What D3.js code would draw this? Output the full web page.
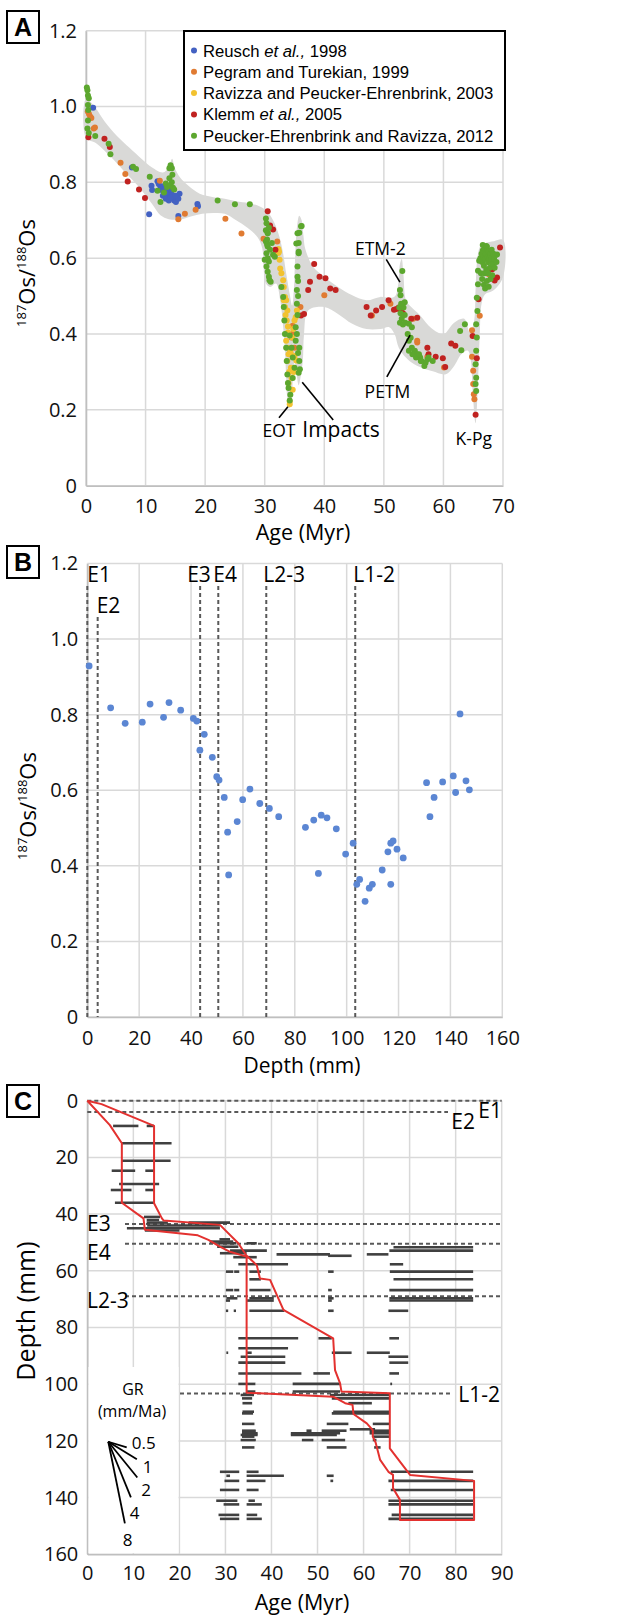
<!DOCTYPE html>
<html>
<head>
<meta charset="utf-8">
<script src="https://cdn.jsdelivr.net/npm/d3@7"></script>
<style>
  body { margin: 0; background: #fff; }
  svg { display: block; font-family: "Open Sans", sans-serif; }
</style>
</head>
<body>
<svg id="fig" width="617" height="1618"></svg>
<script>
// --- Panel A: 187Os/188Os vs age, five literature compilations ---
const seriesNames = [
    ["Reusch ", "et al.,", " 1998"],
    ["Pegram and Turekian, 1999"],
    ["Ravizza and Peucker-Ehrenbrink, 2003"],
    ["Klemm ", "et al.,", " 2005"],
    ["Peucker-Ehrenbrink and Ravizza, 2012"]
];
const seriesColors = ["#4361c2", "#e07b32", "#f2c230", "#c02220", "#5ca72e"];

const reusch = [[1.2,0.997],[7.7,0.839],[10.6,0.716],[11.0,0.791],[11.1,0.780],[12.0,0.803],[12.2,0.796],
    [12.5,0.789],[12.7,0.783],[12.9,0.777],[13.2,0.774],[13.4,0.765],[13.6,0.761],[13.9,0.770],[14.1,0.771],
    [14.4,0.768],[14.6,0.759],[14.8,0.752],[15.1,0.748],[15.3,0.763],[15.5,0.757],[15.7,0.770],[12.9,0.765],
    [13.4,0.757],[13.9,0.752],[14.2,0.760],[13.0,0.790],[13.6,0.775],[14.3,0.780],[15.0,0.765],[15.5,0.711],
    [18.7,0.743],[18.8,0.737]];
const pegram = [[0.3,0.987],[0.5,0.980],[0.7,0.974],[0.9,0.970],[1.3,0.942],[1.5,0.945],[5.8,0.852],[6.6,0.822],
    [12.4,0.804],[15.5,0.703],[16.6,0.717],[18.4,0.728],[23.4,0.704],[26.1,0.665],[29.8,0.651],[32.1,0.644],
    [34.7,0.422],[34.5,0.391],[35.0,0.364],[34.3,0.351],[34.6,0.400],[36.0,0.471],[40.0,0.502],[48.0,0.449],
    [51.1,0.480],[54.9,0.440],[55.6,0.378],[57.3,0.340],[60.1,0.312],[64.8,0.410],[64.8,0.340],[65.0,0.303],
    [65.0,0.268],[65.1,0.241],[65.2,0.228],[66.1,0.448],[67.6,0.558],[55.6,0.382]];
const ravizza = [[32.3,0.624],[32.3,0.614],[32.4,0.618],[32.5,0.596],[32.6,0.573],[32.8,0.560],[33.1,0.542],
    [33.2,0.524],[33.6,0.489],[33.4,0.471],[33.8,0.462],[33.7,0.436],[33.9,0.404],[33.6,0.382],[33.8,0.364],
    [34.0,0.347],[33.8,0.329],[34.4,0.311],[34.5,0.284],[34.7,0.253],[34.2,0.222],[34.2,0.215],[35.2,0.444],
    [35.4,0.462],[35.0,0.436],[34.8,0.413],[34.6,0.391],[34.3,0.351],[35.0,0.342],[33.2,0.489],[33.4,0.498],
    [33.5,0.450],[33.9,0.420],[34.1,0.300],[34.0,0.270],[33.6,0.400],[35.3,0.330],[34.9,0.300]];
const klemm = [[0.4,0.919],[3.1,0.915],[4.0,0.893],[7.0,0.802],[8.9,0.781],[9.9,0.759],[30.5,0.724],[30.9,0.686],
    [31.4,0.676],[31.8,0.622],[36.1,0.449],[36.6,0.453],[38.3,0.585],[37.6,0.538],[37.3,0.516],[39.2,0.551],
    [40.2,0.547],[41.0,0.520],[41.9,0.516],[47.1,0.471],[47.8,0.449],[48.7,0.462],[49.7,0.471],[50.8,0.489],
    [51.7,0.464],[52.1,0.466],[52.5,0.470],[52.9,0.460],[53.2,0.455],[54.6,0.440],[55.6,0.443],[57.3,0.364],
    [57.5,0.347],[58.7,0.340],[59.9,0.336],[60.3,0.313],[61.3,0.375],[62.0,0.369],[64.9,0.395],[65.6,0.336],
    [65.9,0.492],[67.5,0.562],[68.2,0.571],[69.0,0.549],[68.6,0.541],[69.5,0.628],[65.4,0.187]];
const peucker = [[0.14,1.050],[0.24,1.043],[0.33,1.029],[0.47,1.022],[0.33,1.004],[0.38,0.991],[0.33,0.963],
    [0.24,0.942],[0.47,0.930],[1.55,0.922],[3.8,0.902],[4.1,0.874],[7.9,0.841],[8.4,0.835],[10.7,0.815],
    [14.0,0.837],[14.4,0.837],[14.0,0.811],[14.4,0.800],[12.0,0.778],[12.5,0.748],[13.4,0.797],[13.6,0.788],
    [14.1,0.792],[14.6,0.786],[14.8,0.781],[13.1,0.773],[14.2,0.845],[14.5,0.820],[22.1,0.752],[25.0,0.742],
    [27.5,0.742],
    [30.2,0.705],[30.3,0.692],[30.2,0.674],[30.5,0.666],[30.4,0.649],[30.2,0.644],[30.4,0.636],[30.5,0.631],
    [30.9,0.622],[30.3,0.613],[30.5,0.600],[30.7,0.591],[30.0,0.596],[30.3,0.578],[30.5,0.564],[30.7,0.551],
    [30.8,0.542],[31.0,0.538],[31.2,0.640],[31.4,0.609],[31.7,0.604],[30.7,0.680],[30.5,0.667],
    [32.8,0.524],[33.1,0.498],[33.2,0.471],[33.3,0.436],[33.4,0.400],[33.6,0.364],[33.7,0.329],[33.8,0.293],
    [33.9,0.271],[34.2,0.396],[34.5,0.364],[34.7,0.338],[35.0,0.311],[34.7,0.284],[34.0,0.258],[34.3,0.240],
    [34.2,0.225],
    [35.2,0.418],[35.4,0.480],[35.4,0.516],[35.5,0.551],[35.5,0.578],[35.7,0.613],[35.7,0.640],[35.8,0.667],
    [36.1,0.684],[35.2,0.382],[35.8,0.364],[35.8,0.329],[35.7,0.298],[35.9,0.307],[35.5,0.666],[36.2,0.685],
    [35.3,0.639],[35.7,0.617],[35.5,0.450],[35.6,0.500],[35.6,0.540],[35.4,0.400],[35.6,0.350],
    [53.1,0.566],[52.7,0.516],[52.8,0.502],[53.5,0.484],[52.6,0.470],[52.8,0.455],[53.0,0.440],[52.7,0.430],
    [53.2,0.425],[53.5,0.450],[53.3,0.470],[52.9,0.480],[53.6,0.430],[54.2,0.427],[54.7,0.418],[54.2,0.382],
    [54.7,0.364],[55.2,0.356],[55.6,0.347],[56.1,0.338],[56.3,0.329],[57.0,0.324],[57.3,0.333],[57.5,0.338],
    [56.8,0.316],[54.2,0.356],[55.4,0.338],[56.2,0.329],[54.8,0.347],[55.9,0.347],[58.2,0.329],[54.0,0.400],
    [54.5,0.390],
    [62.8,0.408],[63.6,0.426],[63.0,0.357],[65.4,0.268],[65.5,0.285],[65.4,0.320],[65.5,0.356],[65.6,0.391],
    [65.5,0.426],[65.7,0.461],[65.6,0.496],[65.8,0.531],[65.8,0.567],[66.0,0.593],[65.5,0.250],
    [66.2,0.600],[66.4,0.612],[66.5,0.590],[66.6,0.620],[66.7,0.605],[66.8,0.580],[66.9,0.625],[67.0,0.598],
    [67.1,0.612],[67.2,0.570],[67.3,0.630],[67.4,0.603],[67.5,0.589],[67.6,0.618],[67.7,0.600],[67.8,0.575],
    [67.9,0.610],[68.0,0.595],[68.1,0.622],[68.2,0.605],[68.3,0.585],[68.4,0.612],[68.5,0.598],[68.7,0.608],
    [68.9,0.590],[66.3,0.560],[66.5,0.545],[66.8,0.530],[67.0,0.520],[67.3,0.540],[67.6,0.525],[67.9,0.545],
    [68.2,0.555],[66.6,0.635],[67.2,0.632],[66.9,0.560],[67.5,0.560],[68.6,0.575],[69.0,0.610]];
const seriesData = [reusch, pegram, ravizza, klemm, peucker];

// grey envelope, upper and lower edge (age, ratio)
const envelopeTop = [[0,1.02],[1.6,0.996],[3.1,0.961],[5.2,0.922],[7.3,0.891],[9.4,0.861],[11.1,0.839],
    [12.9,0.826],[13.9,0.84],[14.45,0.862],[14.9,0.838],[15.8,0.813],[17.2,0.791],[19.1,0.770],[21.4,0.761],
    [23.3,0.757],[25.2,0.750],[27.3,0.745],[29.0,0.738],[30.3,0.725],[31.4,0.700],[32.3,0.665],[33.0,0.620],
    [33.6,0.560],[34.2,0.505],[34.6,0.475],[34.9,0.52],[35.1,0.60],[35.4,0.68],[35.8,0.712],[36.2,0.70],
    [36.5,0.66],[36.8,0.625],[38.1,0.578],[40.0,0.551],[42.3,0.524],[44.7,0.502],[47.1,0.489],[49.4,0.498],
    [51.0,0.495],[51.9,0.50],[52.4,0.53],[52.7,0.585],[53.0,0.598],[53.3,0.555],[53.7,0.49],[54.6,0.471],
    [56.1,0.449],[58.0,0.415],[60.0,0.40],[61.8,0.43],[63.5,0.44],[64.4,0.405],[65.1,0.43],[65.4,0.52],
    [65.7,0.60],[66.2,0.632],[67.0,0.640],[68.5,0.645],[70,0.648]];
const envelopeBottom = [[0,0.917],[1.65,0.904],[4.0,0.870],[6.35,0.830],[8.7,0.791],[11.1,0.743],[12.5,0.713],
    [13.9,0.703],[15.8,0.702],[17.6,0.710],[19.5,0.717],[21.4,0.719],[23.3,0.717],[25.2,0.700],[27.1,0.680],
    [28.8,0.655],[29.6,0.625],[29.8,0.578],[30.2,0.533],[30.9,0.524],[31.9,0.533],[32.6,0.489],[33.1,0.418],
    [33.4,0.356],[33.6,0.284],[33.8,0.23],[34.2,0.205],[34.5,0.23],[34.8,0.30],[35.0,0.33],[35.3,0.30],
    [35.7,0.265],[36.0,0.285],[36.4,0.33],[36.6,0.40],[37.3,0.462],[40.0,0.471],[42.3,0.453],[44.7,0.427],
    [47.1,0.413],[49.4,0.413],[50.9,0.418],[51.8,0.400],[52.5,0.364],[53.7,0.338],[55.1,0.320],[57.0,0.307],
    [58.2,0.302],[60.4,0.294],[61.8,0.316],[63.0,0.347],[64.1,0.356],[64.6,0.33],[64.9,0.25],[65.4,0.165],
    [65.8,0.27],[66.1,0.40],[66.4,0.48],[67.0,0.505],[68.3,0.514],[70,0.55]];

// event labels in panel A: text, label position and pointer line (age, ratio)
const eventNames = ["ETM-2", "PETM", "EOT", "Impacts", "K-Pg"];
const eventLabelAt = [[49.4,0.608],[50.6,0.231],[32.4,0.128],[42.8,0.128],[65.1,0.108]];
const eventPointer = [[[50.4,0.597],[52.7,0.537]], [[50.5,0.287],[54.4,0.397]], [[32.4,0.179],[33.9,0.208]],
    [[41.5,0.173],[36.3,0.273]], null];

const ageTicksA = [0,10,20,30,40,50,60,70];
const osTicks = [0,0.2,0.4,0.6,0.8,1.0,1.2];

// --- Panel B: 187Os/188Os vs depth in the crust ---
const depthOs = [[0.7,0.929],[9.0,0.818],[14.6,0.777],[21.2,0.780],[24.2,0.828],[29.4,0.793],[31.5,0.832],
    [36.0,0.812],[40.9,0.790],[42.2,0.783],[45.1,0.748],[43.4,0.706],[48.2,0.687],[49.9,0.636],[50.8,0.627],
    [52.8,0.581],[54.1,0.489],[54.5,0.376],[57.8,0.517],[59.9,0.575],[62.7,0.603],[66.5,0.565],[70.2,0.552],
    [73.8,0.530],[84.1,0.502],[87.3,0.521],[89.1,0.380],[90.2,0.534],[92.4,0.527],[96.0,0.498],[99.6,0.431],
    [102.5,0.460],[103.9,0.351],[105.0,0.364],[107.1,0.306],[108.7,0.341],[109.9,0.351],[113.7,0.389],
    [115.9,0.437],[117.0,0.351],[117.0,0.460],[117.9,0.466],[119.4,0.444],[121.8,0.421],[130.8,0.620],
    [132.1,0.530],[133.7,0.581],[137.0,0.622],[141.1,0.638],[142.0,0.594],[143.7,0.802],[146.0,0.625],
    [147.3,0.601]];
const depthTicks = [0,20,40,60,80,100,120,140,160];

// growth-event markers, shared by B and C (depth, mm)
const markerNames = ["E1", "E2", "E3", "E4", "L2-3", "L1-2"];
const markerDepth = [0, 4, 43.5, 50.5, 69, 103.3];

// --- Panel C: age model, depth vs age ---
// [depth mm, min age Myr, max age Myr]
const ageRanges = [
    [8.9,5.6,11.1],[8.9,12.9,14.5],[15.0,7.5,18.3],[21.2,7.5,18.1],[24.7,5.3,10.4],[24.7,12.6,14.5],
    [29.4,6.9,15.6],[31.5,5.1,9.6],[31.5,12.6,14.5],[36.0,6.0,14.7],[41.0,12.3,15.8],[42.1,12.9,15.6],
    [43.0,12.9,17.5],[43.0,22.0,31.0],[44.0,13.0,28.8],[45.0,8.6,28.8],[45.8,12.5,20.0],
    [48.9,28.7,31.0],[49.7,26.6,31.7],[50.3,28.5,32.4],[50.3,34.6,36.8],[51.5,28.2,32.8],[51.7,66.5,83.8],
    [52.9,31.0,39.0],[52.9,65.6,83.8],[53.8,28.8,34.6],[54.2,41.1,52.7],[54.2,60.7,65.4],[54.7,52.3,57.4],
    [55.2,31.7,36.8],[57.7,32.8,43.6],[57.7,65.7,68.6],
    [60.3,30.1,31.7],[60.3,31.9,33.0],[60.3,35.2,37.7],[60.3,52.3,53.5],[60.3,65.7,83.8],
    [63.0,35.2,37.7],[63.0,66.5,83.8],
    [66.8,30.1,31.7],[66.8,31.9,33.0],[66.8,35.2,39.8],[66.8,52.3,53.1],[66.8,65.6,83.8],
    [69.7,30.2,32.6],[69.7,35.2,40.5],[69.7,52.3,53.5],[69.7,65.6,83.8],
    [70.5,30.1,31.0],[70.5,34.6,40.5],[70.5,52.3,53.1],[70.5,65.6,83.8],
    [74.1,30.1,30.6],[74.1,31.8,32.3],[74.1,35.2,42.8],[74.1,52.3,53.5],[74.1,65.4,69.7],
    [83.8,32.8,45.8],[83.8,50.2,53.1],[83.8,65.6,67.7],
    [87.3,32.8,43.6],[88.9,30.2,30.6],[88.9,34.6,35.7],[88.9,53.1,57.4],[88.9,60.7,65.7],
    [90.3,33.3,43.0],[90.3,65.4,69.7],[92.4,32.8,43.0],[92.4,65.6,69.7],
    [96.2,32.8,46.5],[96.2,49.1,52.7],[96.2,65.6,67.7],
    [99.9,32.8,36.5],[99.9,44.6,54.9],[99.9,65.8,66.2],
    [102.6,34.6,36.5],[102.6,44.6,54.9],[103.8,33.3,36.2],[103.8,52.7,65.7],[105.0,33.6,35.8],[105.0,53.1,65.7],
    [106.7,33.7,35.8],[106.7,56.7,61.8],[109.7,33.7,36.2],[109.7,53.4,65.7],[110.3,33.6,36.0],[110.3,53.1,65.7],
    [114.0,33.6,36.3],[114.0,52.0,56.7],[114.0,62.0,65.7],[115.9,57.0,62.5],
    [116.4,33.6,36.6],[116.4,47.6,48.7],[116.4,50.9,56.3],[116.4,61.3,65.7],
    [117.3,33.6,37.0],[117.3,44.2,54.9],[117.3,61.3,65.7],[117.9,33.3,37.0],[117.9,44.2,54.2],
    [118.5,33.6,36.3],[118.5,62.0,65.7],
    [119.7,33.3,36.6],[119.7,46.6,49.1],[119.7,50.9,56.0],[119.7,62.0,62.8],
    [122.3,33.6,36.3],[122.3,52.0,56.3],[122.3,62.3,63.7],
    [130.9,28.8,33.0],[130.9,34.6,37.2],[130.9,65.9,83.8],
    [132.3,30.2,31.0],[132.3,34.6,42.7],[132.3,52.0,53.5],
    [134.1,29.8,33.0],[134.1,34.6,38.7],[134.1,52.8,53.4],[134.1,65.4,83.8],
    [137.3,28.8,33.0],[137.3,34.6,37.2],[137.3,65.9,83.8],
    [141.1,28.0,32.6],[141.1,35.0,36.4],[141.1,65.4,83.8],
    [142.4,29.6,33.0],[142.4,34.6,37.9],[142.4,65.4,83.8],
    [146.1,28.5,33.0],[146.1,34.6,36.9],[146.1,66.1,83.8],
    [147.5,28.8,33.0],[147.5,34.6,37.9],[147.5,65.4,83.8]
];
// red outline around the age ranges, (age, depth)
const ageOutline = [[0,0],[3.1,1.2],[14.5,8.9],[14.5,36.2],[16.2,41.5],[16.6,42.3],[28.8,43.8],[32.8,50.3],
    [34.5,54.5],[36.8,58.0],[37.5,62.7],[39.7,63.2],[42.6,73.8],[53.4,83.8],[53.8,95.0],[54.9,99.7],
    [55.2,102.6],[65.7,103.2],[65.7,122.6],[70.1,132.0],[84.0,134.1],[84.0,147.9],
    [67.9,147.9],[67.9,140.8],[66.4,136.7],[66.4,132.0],[65.4,130.9],[63.6,126.7],[62.6,120.5],[62.0,118.5],
    [62.0,116.2],[60.7,113.8],[57.8,110.5],[57.6,107.3],[56.0,106.7],[53.4,104.4],[34.6,103.0],[34.6,55.0],
    [31.0,53.3],[28.8,51.5],[26.3,49.1],[24.0,47.5],[12.5,45.5],[12.2,41.5],[7.5,36.0],[7.5,15.0],
    [4.9,8.6],[0,0]];
// growth-rate fan (mm/Ma) and how far each spoke runs (Myr)
const grRates = [0.5, 1, 2, 4, 8];
const grSpan = [4.0, 6.2, 6.3, 4.9, 3.6];
const grOrigin = [4.56, 120.3];

const ageTicksC = [0,10,20,30,40,50,60,70,80,90];

// --- helpers ---
const svg = d3.select("#fig");
const FONT = "'Open Sans', sans-serif";
const GRID = "#d9d9d9";
const AXIS = "#bfbfbf";

function drawFrame(x, y, xTicks, yTicks, yFormat, xPad) {
    const [x0, x1] = x.range();
    const yTop = Math.min(...y.range()), yBot = Math.max(...y.range());
    const g = svg.append("g");
    g.selectAll(".vg").data(xTicks).join("line")
        .attr("x1", d => x(d)).attr("x2", d => x(d)).attr("y1", yTop).attr("y2", yBot)
        .attr("stroke", GRID).attr("stroke-width", 1.5);
    g.selectAll(".hg").data(yTicks).join("line")
        .attr("x1", x0).attr("x2", x1).attr("y1", d => y(d)).attr("y2", d => y(d))
        .attr("stroke", GRID).attr("stroke-width", 1.5);
    const ax = g.append("g").attr("transform", `translate(0,${yBot})`)
        .call(d3.axisBottom(x).tickValues(xTicks).tickSize(0).tickPadding(xPad));
    const ay = g.append("g").attr("transform", `translate(${x0},0)`)
        .call(d3.axisLeft(y).tickValues(yTicks).tickFormat(yFormat).tickSize(0).tickPadding(9));
    [ax, ay].forEach(a => {
        a.select(".domain").attr("stroke", AXIS).attr("stroke-width", 1.6);
        a.selectAll(".tick text").attr("font-size", 20).attr("font-family", FONT).attr("fill", "#111");
    });
    return g;
}

function panelLabel(letter, top) {
    svg.append("rect").attr("x", 7).attr("y", top).attr("width", 32).attr("height", 32)
        .attr("fill", "#fff").attr("stroke", "#000").attr("stroke-width", 2);
    svg.append("text").attr("x", 23).attr("y", top + 25).attr("text-anchor", "middle")
        .attr("font-family", "'Liberation Sans', Arial, sans-serif").attr("font-weight", "bold")
        .attr("font-size", 25).text(letter);
}

function osTitle(cx, cy) {
    const t = svg.append("text").attr("transform", `translate(${cx},${cy}) rotate(-90)`)
        .attr("text-anchor", "middle").attr("font-size", 22).attr("font-family", FONT);
    t.append("tspan").attr("font-size", 13).attr("dy", -9).text("187");
    t.append("tspan").attr("dy", 9).text("Os/");
    t.append("tspan").attr("font-size", 13).attr("dy", -9).text("188");
    t.append("tspan").attr("dy", 9).text("Os");
}

function axisTitle(text, x, y, size, rotate) {
    svg.append("text")
        .attr("transform", rotate ? `translate(${x},${y}) rotate(-90)` : `translate(${x},${y})`)
        .attr("text-anchor", "middle").attr("font-size", size).attr("font-family", FONT).text(text);
}

const osFormat = d => d === 0 ? "0" : d3.format(".1f")(d);

// ================= Panel A =================
const xA = d3.scaleLinear().domain([0, 70]).range([86, 503]);
const yA = d3.scaleLinear().domain([0, 1.2]).range([485.7, 30.7]);
drawFrame(xA, yA, ageTicksA, osTicks, osFormat, 13);

const envelope = envelopeTop.concat(envelopeBottom.slice().reverse());
svg.append("path")
    .attr("d", d3.line().x(d => xA(d[0])).y(d => yA(d[1])).curve(d3.curveCatmullRomClosed.alpha(0.5))(envelope))
    .attr("fill", "#d9d9d7");

seriesData.forEach((pts, i) => {
    svg.append("g").selectAll("circle").data(pts).join("circle")
        .attr("cx", d => xA(d[0])).attr("cy", d => yA(d[1])).attr("r", 3)
        .attr("fill", seriesColors[i]);
});

// event annotations
eventNames.forEach((name, i) => {
    const [a, v] = eventLabelAt[i];
    svg.append("text").attr("x", xA(a)).attr("y", yA(v)).attr("text-anchor", "middle")
        .attr("font-family", FONT).attr("font-size", name === "Impacts" ? 21 : 17.5).text(name);
    if (eventPointer[i]) {
        const [p, q] = eventPointer[i];
        svg.append("line").attr("x1", xA(p[0])).attr("y1", yA(p[1])).attr("x2", xA(q[0])).attr("y2", yA(q[1]))
            .attr("stroke", "#000").attr("stroke-width", 1.6);
    }
});

// legend
const leg = svg.append("g").attr("transform", "translate(184,31)");
leg.append("rect").attr("width", 321).attr("height", 119).attr("fill", "#fff")
    .attr("stroke", "#000").attr("stroke-width", 2);
seriesNames.forEach((parts, i) => {
    const cy = 19.5 + i * 21.3;
    leg.append("circle").attr("cx", 10).attr("cy", cy).attr("r", 3).attr("fill", seriesColors[i]);
    const t = leg.append("text").attr("x", 19).attr("y", cy + 6)
        .attr("font-family", "'Liberation Sans', Arial, sans-serif").attr("font-size", 16.7);
    parts.forEach(p => t.append("tspan").attr("font-style", p.startsWith("et al") ? "italic" : null).text(p));
});

panelLabel("A", 11);
axisTitle("Age (Myr)", 303, 540, 21.5);
osTitle(35, 273);

// ================= Panel B =================
const xB = d3.scaleLinear().domain([0, 160]).range([87.3, 502.3]);
const yB = d3.scaleLinear().domain([0, 1.2]).range([1017, 563.5]);
drawFrame(xB, yB, depthTicks, osTicks, osFormat, 14);

const bLabelShift = [[0, 582], [-1, 613], [-13, 582], [-5, 582], [-3, 582], [-2, 582]];
markerNames.forEach((name, i) => {
    const x = xB(markerDepth[i]);
    const [dx, ly] = bLabelShift[i];
    svg.append("line").attr("x1", x).attr("x2", x).attr("y1", ly + 4).attr("y2", yB(0))
        .attr("stroke", "#595959").attr("stroke-width", 2).attr("stroke-dasharray", "4,3");
    svg.append("text").attr("x", x + dx).attr("y", ly).attr("font-family", FONT).attr("font-size", 21).text(name);
});

svg.append("g").selectAll("circle").data(depthOs).join("circle")
    .attr("cx", d => xB(d[0])).attr("cy", d => yB(d[1])).attr("r", 3.4).attr("fill", "#5b86d3");

panelLabel("B", 546);
axisTitle("Depth (mm)", 302, 1073, 21);
osTitle(36, 806);

// ================= Panel C =================
const xC = d3.scaleLinear().domain([0, 90]).range([87.3, 501.7]);
const yC = d3.scaleLinear().domain([0, 160]).range([1100.7, 1554.3]);
drawFrame(xC, yC, ageTicksC, depthTicks, d => d, 12);

// blank area behind the growth-rate key
svg.append("rect").attr("x", 88.5).attr("y", 1367).attr("width", 90).attr("height", 186).attr("fill", "#fff");

// event lines with their labels
const cLine = [[87.3, 501.7], [87.3, 448], [125, 501.7], [125, 501.7], [125, 501.7], [180, 450]];
const cLabel = [[502, 1118, "end"], [475, 1129, "end"], [87, 1231, "start"], [87, 1260, "start"],
    [87, 1308, "start"], [500, 1402, "end"]];
markerNames.forEach((name, i) => {
    const y = yC(markerDepth[i]);
    svg.append("line").attr("x1", cLine[i][0]).attr("x2", cLine[i][1]).attr("y1", y).attr("y2", y)
        .attr("stroke", "#595959").attr("stroke-width", 2).attr("stroke-dasharray", "4,3");
    svg.append("text").attr("x", cLabel[i][0]).attr("y", cLabel[i][1]).attr("text-anchor", cLabel[i][2])
        .attr("font-family", FONT).attr("font-size", 21).text(name);
});

svg.append("g").selectAll("line").data(ageRanges).join("line")
    .attr("x1", d => xC(d[1])).attr("x2", d => xC(d[2]))
    .attr("y1", d => yC(d[0])).attr("y2", d => yC(d[0]))
    .attr("stroke", "#404040").attr("stroke-width", 2.6);

svg.append("path")
    .attr("d", d3.line().x(d => xC(d[0])).y(d => yC(d[1]))(ageOutline))
    .attr("fill", "none").attr("stroke", "#e3312f").attr("stroke-width", 2).attr("stroke-linejoin", "round");

// growth-rate key
svg.append("text").attr("x", 133).attr("y", 1395).attr("text-anchor", "middle")
    .attr("font-family", FONT).attr("font-size", 16).text("GR");
svg.append("text").attr("x", 132).attr("y", 1417).attr("text-anchor", "middle")
    .attr("font-family", FONT).attr("font-size", 16).text("(mm/Ma)");
const grLabelShift = [[5, 1.6], [6, 13.2], [4, 18.5], [-1, 21.7], [-2, 22.6]];
grRates.forEach((r, i) => {
    const ex = grOrigin[0] + grSpan[i], ey = grOrigin[1] + grSpan[i] * r;
    svg.append("line").attr("x1", xC(grOrigin[0])).attr("y1", yC(grOrigin[1]))
        .attr("x2", xC(ex)).attr("y2", yC(ey)).attr("stroke", "#000").attr("stroke-width", 1.8);
    svg.append("text").attr("x", xC(ex) + grLabelShift[i][0]).attr("y", yC(ey) + grLabelShift[i][1])
        .attr("font-family", FONT).attr("font-size", 17).text(r);
});

panelLabel("C", 1085);
axisTitle("Age (Myr)", 302, 1610, 21.5);
axisTitle("Depth (mm)", 35, 1311, 25, true);
</script>
</body>
</html>
